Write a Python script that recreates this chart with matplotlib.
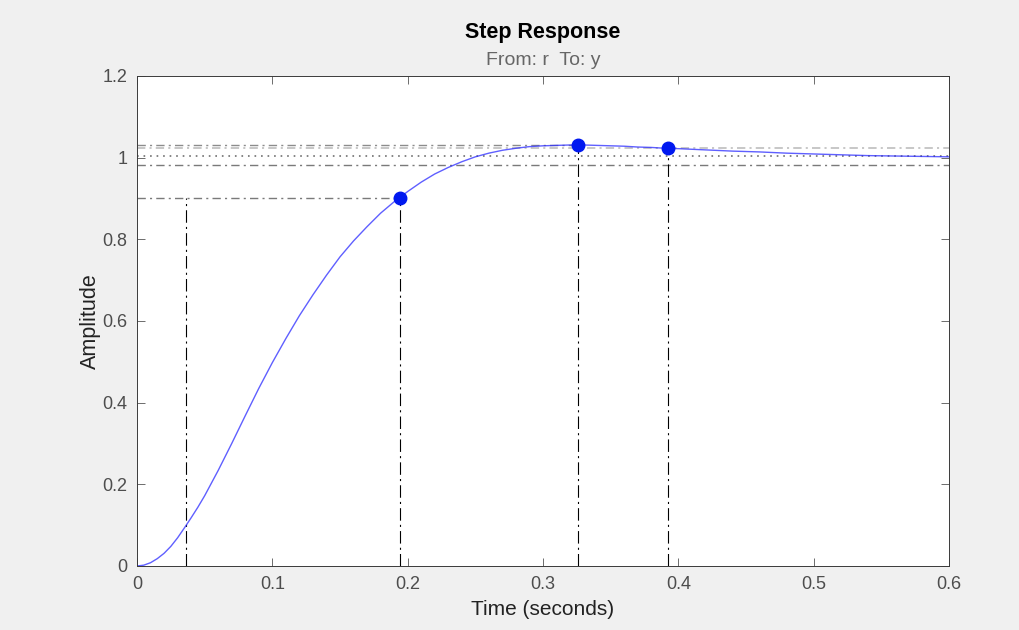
import numpy as np
import matplotlib
matplotlib.use("Agg")
import matplotlib.pyplot as plt

# Step response
t = [0, 0.005, 0.01, 0.015, 0.02, 0.025, 0.03, 0.036, 0.04, 0.045, 0.05,
     0.06, 0.07, 0.08, 0.09, 0.10, 0.11, 0.12, 0.13, 0.14, 0.15, 0.16, 0.17,
     0.18, 0.19, 0.20, 0.21, 0.22, 0.23, 0.24, 0.25, 0.26, 0.27, 0.28, 0.29,
     0.30, 0.31, 0.32, 0.33, 0.34, 0.35, 0.36, 0.37, 0.38, 0.39, 0.40, 0.42,
     0.44, 0.46, 0.48, 0.50, 0.52, 0.54, 0.56, 0.58, 0.60]
y = [0, 0.002, 0.008, 0.018, 0.031, 0.048, 0.069, 0.098, 0.118, 0.144, 0.172,
     0.234, 0.300, 0.368, 0.435, 0.498, 0.557, 0.613, 0.664, 0.712, 0.757,
     0.796, 0.831, 0.864, 0.892, 0.917, 0.940, 0.960, 0.976, 0.990, 1.002,
     1.011, 1.018, 1.023, 1.027, 1.029, 1.030, 1.031, 1.031, 1.030, 1.029,
     1.028, 1.026, 1.025, 1.023, 1.022, 1.019, 1.016, 1.014, 1.011, 1.009,
     1.007, 1.005, 1.004, 1.003, 1.002]

# characteristics
final_value = 1.003
rise_start, rise_end, rise_level = 0.036, 0.194, 0.9
peak_time, peak_value = 0.326, 1.031
settle_time, settle_upper, settle_lower = 0.3925, 1.023, 0.983

xticks = [0, 0.1, 0.2, 0.3, 0.4, 0.5, 0.6]
xlabels = ['0', '0.1', '0.2', '0.3', '0.4', '0.5', '0.6']
yticks = [0, 0.2, 0.4, 0.6, 0.8, 1.0, 1.2]
ylabels = ['0', '0.2', '0.4', '0.6', '0.8', '1', '1.2']

plt.rcParams['font.family'] = ['Liberation Sans', 'DejaVu Sans']
plt.rcParams['lines.scale_dashes'] = False

fig = plt.figure(figsize=(10.2, 6.3), dpi=100, facecolor='#f0f0f0')
ax = fig.add_axes([0.1343, 0.1016, 0.7961, 0.7778])
ax.set_facecolor('white')

hdash = (0, (6, 3, 1.5, 3))
vdash = (0, (9, 3, 1.5, 3))

# horizontal guide lines
ax.plot([0, 0.6], [settle_upper, settle_upper], color='#bdbdbd', lw=1.2, ls=hdash)
ax.plot([0, peak_time], [peak_value, peak_value], color='#8c8c8c', lw=1.0, ls=hdash)
ax.plot([0, 0.6], [final_value, final_value], color='#707070', lw=1.2, ls=(0, (1.2, 3.5)))
ax.plot([0, 0.6], [settle_lower, settle_lower], color='#7a7a7a', lw=1.0, ls=hdash)
ax.plot([0, rise_end], [rise_level, rise_level], color='#7a7a7a', lw=1.0, ls=hdash)

# vertical guide lines
for xv, top in [(rise_start, rise_level), (rise_end, rise_level),
                (peak_time, peak_value), (settle_time, settle_upper)]:
    ax.plot([xv, xv], [0, top], color='black', lw=0.8, ls=vdash)

ax.plot(t, y, color='#2a2aff', lw=1.0, alpha=0.75)

ax.plot([rise_end, peak_time, settle_time], [rise_level, peak_value, settle_upper],
        'o', color='#0018f0', markersize=9, zorder=5)

ax.set_xlim(0, 0.6)
ax.set_ylim(0, 1.2)
ax.set_xticks(xticks)
ax.set_xticklabels(xlabels)
ax.set_yticks(yticks)
ax.set_yticklabels(ylabels)
ax.tick_params(direction='in', length=6, width=0.6, color='#555555',
               labelcolor='#4d4d4d', labelsize=13, top=True, right=True, pad=7)
for s in ax.spines.values():
    s.set_color('#3a3a3a')
    s.set_linewidth(0.7)

ax.set_xlabel('Time (seconds)', fontsize=15, color='#222222', labelpad=5)
ax.set_ylabel('Amplitude', fontsize=15.5, color='#222222', labelpad=1)

fig.text(0.5324, 0.949, 'Step Response', ha='center', va='center',
         fontsize=15.5, fontweight='bold', color='black')
fig.text(0.5324, 0.904, 'From: r  To: y', ha='center', va='center',
         fontsize=14, color='#666666')

fig.savefig('out.png', dpi=100, facecolor=fig.get_facecolor())
